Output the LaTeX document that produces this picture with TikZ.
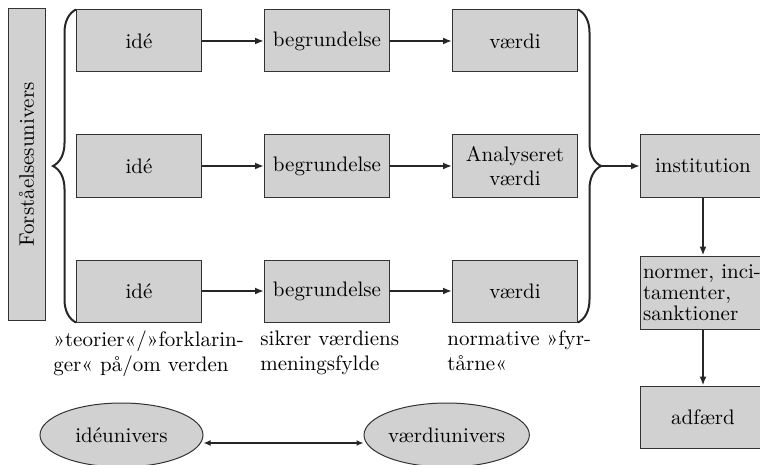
\documentclass[tikz,border=0pt]{standalone}
\usetikzlibrary{positioning}
\usetikzlibrary{shapes.geometric}
\usetikzlibrary{decorations.pathreplacing}
\usetikzlibrary{arrows.meta}
\tikzstyle{rectangle1} = [rectangle, minimum width=62.5pt, minimum height=31pt, text centered, align=center, draw=black!80, fill=black!18, line width=0.5pt, inner sep=1pt, font=\fontsize{10.5}{12}\selectfont]
\tikzstyle{rectangle2} = [rectangle1, align=left, text width=60pt, minimum height=36.5pt, font=\fontsize{10.5}{10.5}\selectfont]
\tikzstyle{ellipse1} = [ellipse, minimum width=81.5pt, minimum height=32pt, inner sep=0pt, draw=black!80, fill=black!18, line width=0.5pt, font=\fontsize{10.5}{12}\selectfont]
\tikzstyle{caption1} = [anchor=north west, align=left, inner sep=0pt, font=\fontsize{10.5}{12.5}\selectfont]
\tikzstyle{pil} = [-{Latex[length=4.5pt,width=3.5pt]}, line width=1pt, draw=black!85]
\tikzstyle{klamme} = [decorate, decoration={brace, amplitude=11.5pt}, line width=1pt, draw=black!85]
\begin{document}
\begin{tikzpicture}[x=0.5pt, y=-0.5pt, node distance=31pt]
			\clip (0,0) rectangle (760,465);
			\node[rectangle1, rotate=90, minimum width=155.5pt, minimum height=18.5pt](forst) at (26.5,164.5){Forståelsesunivers};
			% tre rækker
			\node[rectangle1](ide1) at (139,41){idé};
			\node[rectangle1, right=of ide1](begr1){begrundelse};
			\node[rectangle1, right=of begr1](vaerdi1){værdi};
			\node[rectangle1, below=of ide1](ide2){idé};
			\node[rectangle1, right=of ide2](begr2){begrundelse};
			\node[rectangle1, right=of begr2](vaerdi2){Analyseret\\værdi};
			\node[rectangle1, below=of ide2](ide3){idé};
			\node[rectangle1, right=of ide3](begr3){begrundelse};
			\node[rectangle1, right=of begr3](vaerdi3){værdi};
			% højre søjle
			\node[rectangle1, right=of vaerdi2](inst){institution};
			\node[rectangle2, below=29pt of inst](normer){normer, inci-\\tamenter,\\sanktioner};
			\node[rectangle1, below=28pt of normer](adfaerd){adfærd};
			% tekster
			\node[caption1] (tekst1) at ([xshift=-11.5pt, yshift=-4pt]ide3.south west){»teorier«/»forklarin-\\ger« på/om verden};
			\node[caption1] (tekst2) at ([xshift=-2pt, yshift=-4pt]begr3.south west){sikrer værdiens\\meningsfylde};
			\node[caption1] (tekst3) at ([xshift=-2.5pt, yshift=-4pt]vaerdi3.south west){normative »fyr-\\tårne«};
			\node[ellipse1](ideunivers) at (121.5,435){idéunivers};
			\node[ellipse1, minimum width=80pt, right=80pt of ideunivers](vaerdiunivers){værdiunivers};
			% klammer
			\draw[klamme] (ide3.south west) -- (ide1.north west);
			\draw[klamme] (vaerdi1.north east) -- (vaerdi3.south east);
			\coordinate[right=11.5pt of vaerdi2.east](rtip);
			% pile
			\draw[pil] (ide1) -- (begr1);
			\draw[pil] (begr1) -- (vaerdi1);
			\draw[pil] (ide2) -- (begr2);
			\draw[pil] (begr2) -- (vaerdi2);
			\draw[pil] (ide3) -- (begr3);
			\draw[pil] (begr3) -- (vaerdi3);
			\draw[pil] (rtip) -- (inst);
			\draw[pil] (inst) -- (normer);
			\draw[pil] (normer) -- (adfaerd);
			\draw[pil, {Latex[length=3.5pt,width=3pt]}-{Latex[length=3.5pt,width=3pt]}, line width=0.8pt] ([yshift=-4pt]ideunivers.east) -- ([yshift=-4pt]vaerdiunivers.west);
		\end{tikzpicture}
\end{document}
